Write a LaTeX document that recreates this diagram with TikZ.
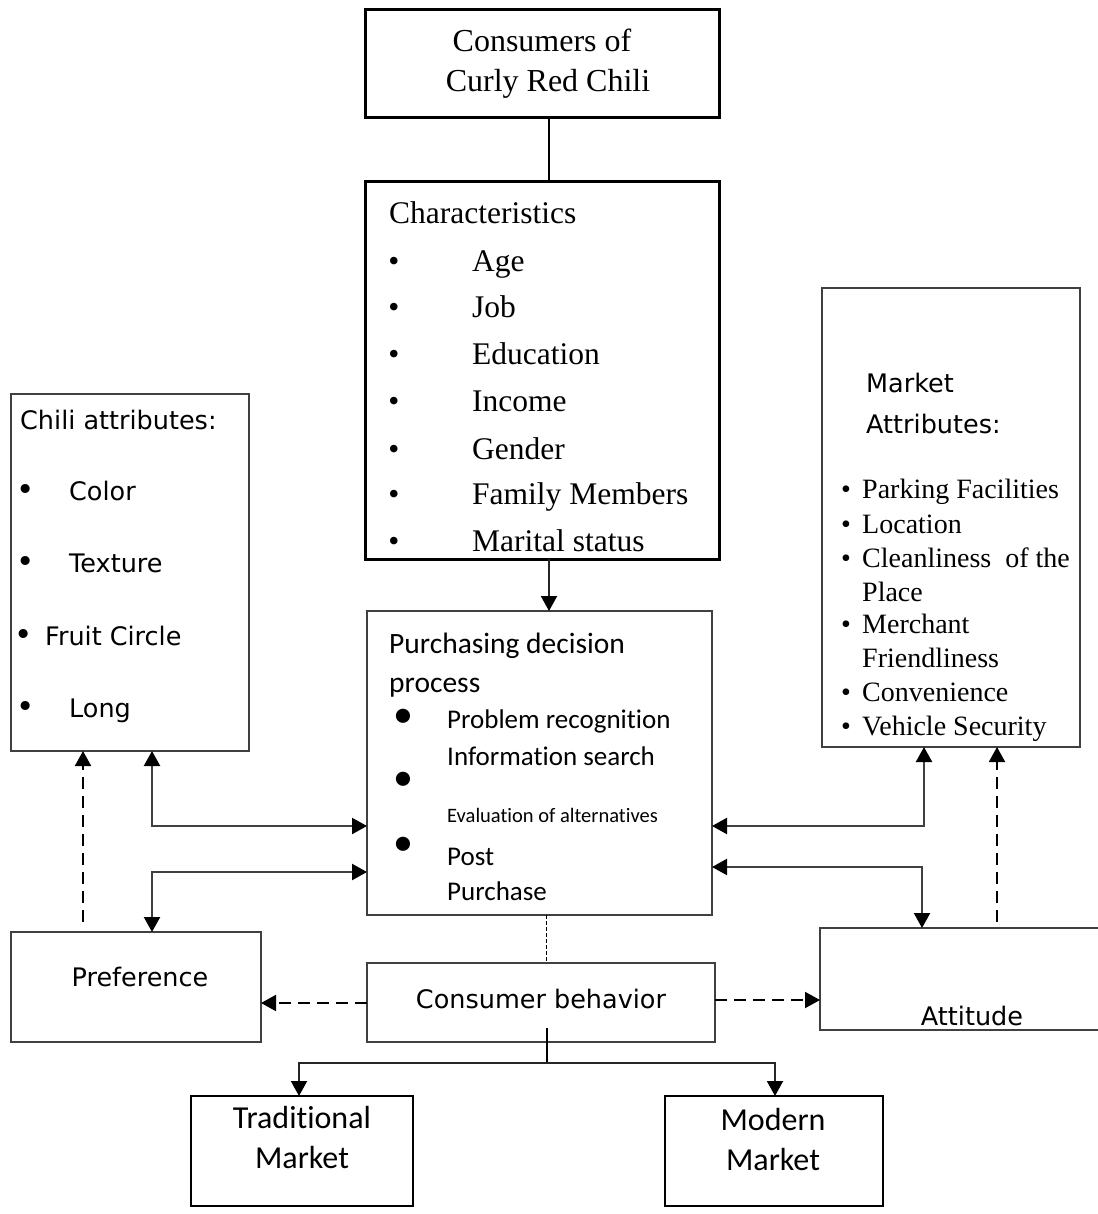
\documentclass[tikz,border=0pt]{standalone}
\usepackage{fontspec}
\setmainfont{Liberation Serif}
\newfontfamily\dvfont{DejaVu Sans}
\newfontfamily\carlfont[Ligatures=NoCommon]{Carlito}
\usetikzlibrary{arrows.meta}
\begin{document}
\begin{tikzpicture}[x=1pt,y=-1pt,
  box/.style={draw=black!75, line width=1.5pt, anchor=north west, inner sep=0pt, outer sep=0pt},
  boldbox/.style={box, draw=black, line width=3pt},
  midbox/.style={box, draw=black, line width=2.5pt},
  txt/.style={inner sep=0pt, anchor=mid west, yshift=-8pt},
  ctxt/.style={inner sep=0pt, anchor=mid, yshift=-8pt},
  tnr/.style={font=\fontsize{31.5}{31.5}\selectfont},
  tnrtop/.style={font=\fontsize{32}{32}\selectfont},
  tnrsm/.style={font=\fontsize{28}{28}\selectfont},
  dv/.style={font=\dvfont\fontsize{25.5}{25.5}\selectfont},
  dvbul/.style={font=\dvfont\fontsize{31}{31}\selectfont},
  dvb/.style={font=\dvfont\fontsize{25.5}{25.5}\selectfont},
  cal/.style={font=\carlfont\fontsize{27}{27}\selectfont},
  calh/.style={font=\carlfont\fontsize{29.5}{29.5}\selectfont},
  calsm/.style={font=\carlfont\fontsize{20.5}{20.5}\selectfont},
  calbul/.style={font=\carlfont\fontsize{40}{40}\selectfont},
  calbig/.style={font=\carlfont\fontsize{32}{32}\selectfont},
  tip/.tip={Triangle[width=16pt,length=15pt,color=black]},
  plainline/.style={line width=2pt, draw=black},
  arr/.style={line width=2pt, draw=black!85, -tip},
  biarr/.style={line width=2.2pt, draw=black!75, tip-tip},
  dasharr/.style={line width=2pt, draw=black, dash pattern=on 12pt off 7pt, -tip},
  dotline/.style={line width=1pt, draw=black, dash pattern=on 4pt off 2pt}
]
\useasboundingbox (0,0) rectangle (1097,1214);

% ---------- boxes ----------
\node[boldbox, minimum width=354pt, minimum height=108pt] (cons) at (365,10) {};
\node[boldbox, minimum width=354pt, minimum height=377pt] (charac) at (365,182) {};
\node[box, minimum width=345pt, minimum height=304pt] (purch) at (367,611) {};
\node[box, minimum width=348pt, minimum height=79pt] (cb) at (367,963) {};
\node[box, minimum width=238pt, minimum height=357pt] (chili) at (11,394) {};
\node[box, minimum width=250pt, minimum height=110pt] (pref) at (11,932) {};
\node[box, minimum width=258pt, minimum height=459pt] (mkt) at (822,288) {};
\node[box, minimum width=300pt, minimum height=102pt] (att) at (820,928) {};
\node[midbox, minimum width=222pt, minimum height=110pt] (trad) at (191,1096) {};
\node[midbox, minimum width=218pt, minimum height=110pt] (modern) at (665,1096) {};

% ---------- texts: consumers ----------
\node[ctxt, tnrtop] (t1) at (542,41.5) {Consumers of};
\node[ctxt, tnrtop] (t2) at (548,81) {Curly Red Chili};

% ---------- characteristics ----------
\node[txt, tnr] (c0) at (389,213) {Characteristics};
\foreach \y/\t [count=\i] in {261/Age, 307.5/Job, 354/Education, 401/Income, 449/Gender, 494/Family Members, 541/Marital status}{
  \node[ctxt, tnr] (cb\i) at (394,\y) {•};
  \node[txt, tnr] (ci\i) at (472,\y) {\t};
}

% ---------- chili attributes ----------
\node[txt, dv] (h0) at (20,419) {Chili attributes:};
\foreach \y/\t [count=\i] in {490/Color, 562/Texture, 707/Long}{
  \node[ctxt, dvbul] (hb\i) at (26,\y) {•};
  \node[txt, dv] (hi\i) at (69,\y) {\t};
}
\node[ctxt, dvbul] (hb4) at (24,635) {•};
\node[txt, dv] (hi4) at (45,635) {Fruit Circle};

% ---------- purchasing decision process ----------
\node[txt, calh] (p0) at (389,643) {Purchasing decision};
\node[txt, calh] (p1) at (389,682) {process};
\node[ctxt, calbul] (pb1) at (403,717) {•};
\node[txt, cal] (p2) at (447,718) {Problem recognition};
\node[txt, cal] (p3) at (447,755) {Information search};
\node[ctxt, calbul] (pb2) at (403,780) {•};
\node[txt, calsm] (p4) at (447,812) {Evaluation of alternatives};
\node[ctxt, calbul] (pb3) at (403,845) {•};
\node[txt, cal] (p5) at (447,855) {Post};
\node[txt, cal] (p6) at (447,890) {Purchase};

% ---------- market attributes ----------
\node[txt, dvb] (m0) at (866,382) {Market};
\node[txt, dvb] (m1) at (866,423) {Attributes:};
\foreach \y [count=\i] in {488, 523, 557, 623, 691, 725}{
  \node[ctxt, tnrsm] (mb\i) at (846,\y) {•};
}
\node[txt, tnrsm] (mi1) at (862,488) {Parking Facilities};
\node[txt, tnrsm] (mi2) at (862,523) {Location};
\node[txt, tnrsm] (mi3) at (862,557) {Cleanliness\ \ of the};
\node[txt, tnrsm] (mi3b) at (862,591) {Place};
\node[txt, tnrsm] (mi4) at (862,623) {Merchant};
\node[txt, tnrsm] (mi4b) at (862,657) {Friendliness};
\node[txt, tnrsm] (mi5) at (862,691) {Convenience};
\node[txt, tnrsm] (mi6) at (862,725) {Vehicle Security};

% ---------- other labels ----------
\node[ctxt, dvb] (prefl) at (140,976) {Preference};
\node[ctxt, dvb] (cbl) at (541,998) {Consumer behavior};
\node[ctxt, dvb] (attl) at (972,1015) {Attitude};
\node[ctxt, calbig] (tr1) at (302,1118) {Traditional};
\node[ctxt, calbig] (tr2) at (302,1158) {Market};
\node[ctxt, calbig] (mo1) at (773,1120) {Modern};
\node[ctxt, calbig] (mo2) at (773,1160) {Market};

% ---------- helper coordinates ----------
\coordinate (cx) at (549,0);
\coordinate (cx2) at (546,0);
\coordinate (L1) at (152,826);
\coordinate (L2) at (152,872);
\coordinate (R1) at (924,826);
\coordinate (R2) at (922,867);
\coordinate (D1) at (83,0);
\coordinate (D2) at (997,0);
\coordinate (D3) at (0,1003);
\coordinate (D4) at (0,1000);
\coordinate (B0) at (547,1028);
\coordinate (B) at (547,1063);
\coordinate (TA) at (299,0);
\coordinate (MA) at (775,0);

% ---------- connectors ----------
\draw[plainline] (cons.south -| cx) -- (charac.north -| cx);
\draw[arr] (charac.south -| cx) -- (purch.north -| cx);
\draw[biarr] (chili.south -| L1) |- (purch.west |- L1);
\draw[biarr] (pref.north -| L2) |- (purch.west |- L2);
\draw[biarr] (mkt.south -| R1) |- (purch.east |- R1);
\draw[biarr] (att.north -| R2) |- (purch.east |- R2);
\draw[dasharr, shorten <=10pt] (pref.north -| D1) -- (chili.south -| D1);
\draw[dasharr, shorten <=6pt] (att.north -| D2) -- (mkt.south -| D2);
\draw[dasharr] (cb.west |- D3) -- (pref.east |- D3);
\draw[dasharr] (cb.east |- D4) -- (att.west |- D4);
\draw[dotline] (purch.south -| cx2) -- (cb.north -| cx2);
\draw[plainline, line width=1.5pt] (B0) -- (B);
\draw[arr] (B) -| (trad.north -| TA);
\draw[arr] (B) -| (modern.north -| MA);
\end{tikzpicture}
\end{document}
